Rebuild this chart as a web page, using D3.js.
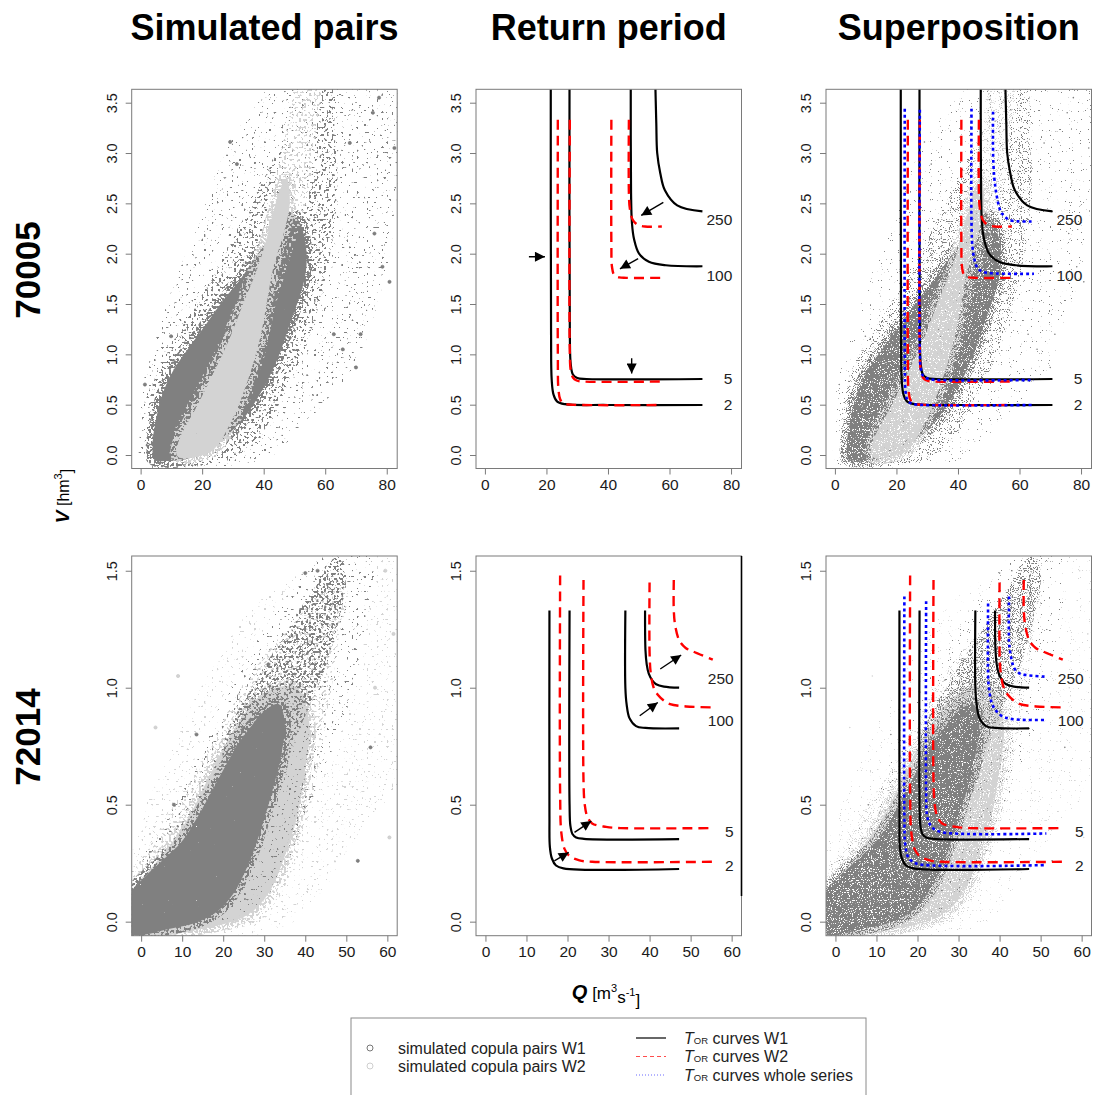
<!DOCTYPE html>
<html>
<head>
<meta charset="utf-8">
<script src="https://cdn.jsdelivr.net/npm/d3@7.9.0/dist/d3.min.js"></script>
<style>
  body { margin: 0; background: #fff; }
  svg { display: block; font-family: "Liberation Sans", Arial, sans-serif; }
</style>
</head>
<body>
<svg id="chart" width="1097" height="1095"></svg>
<script>
// ---- data ----
const titles = ['Simulated pairs', 'Return period', 'Superposition'];
const stations = ['70005', '72014'];
const periods = ['2', '5', '100', '250'];

const qTicks70005 = [0, 20, 40, 60, 80];
const vTicks70005 = [0, 0.5, 1, 1.5, 2, 2.5, 3, 3.5];
const qTicks72014 = [0, 10, 20, 30, 40, 50, 60];
const vTicks72014 = [0, 0.5, 1, 1.5];

// T_OR curves, station 70005  [Q, V] (one array per return period 2,5,100,250)
const w1Curves70005 = [
  [[21.4, 3.8], [21.5, 1.2], [21.7, 0.75], [22.3, 0.6], [23.5, 0.53], [26, 0.505], [40, 0.497], [70.7, 0.497]],
  [[27.5, 3.8], [27.6, 1.2], [27.9, 0.9], [28.6, 0.8], [30, 0.765], [33, 0.755], [70.7, 0.755]],
  [[47.4, 3.8], [47.5, 2.6], [47.8, 2.3], [48.5, 2.14], [50.1, 2.0], [53.3, 1.92], [58.8, 1.885], [70.7, 1.875]],
  [[55.3, 3.8], [55.7, 3.3], [56.0, 3.0], [57, 2.8], [58.5, 2.63], [62.5, 2.48], [70.7, 2.42]]
];
const w2Curves70005 = [
  [[23.7, 3.33], [23.7, 1.0], [23.9, 0.65], [24.5, 0.55], [25.7, 0.51], [28, 0.5], [57.5, 0.497]],
  [[27.6, 3.33], [27.6, 1.0], [27.9, 0.84], [28.6, 0.77], [29.8, 0.74], [32, 0.73], [57.5, 0.73]],
  [[41.1, 3.33], [41.1, 2.1], [41.3, 1.87], [42, 1.79], [43.6, 1.765], [46, 1.76], [57.5, 1.76]],
  [[46.8, 3.33], [46.8, 2.6], [47.1, 2.45], [48, 2.34], [49.5, 2.29], [52, 2.27], [57.5, 2.27]]
];
const wholeCurves70005 = [
  [[22.7, 3.44], [22.7, 1.0], [22.9, 0.65], [23.5, 0.55], [24.6, 0.515], [27, 0.5], [64.7, 0.497]],
  [[27.6, 3.43], [27.6, 1.0], [27.9, 0.86], [28.8, 0.78], [30.6, 0.755], [33, 0.745], [64.7, 0.745]],
  [[44.4, 3.44], [44.4, 2.3], [44.7, 2.07], [45.3, 1.95], [46.3, 1.86], [48, 1.82], [51, 1.805], [64.7, 1.8]],
  [[51.4, 3.41], [51.5, 2.9], [52.3, 2.63], [53.9, 2.42], [55.5, 2.36], [57.2, 2.33], [64.7, 2.32]]
];
const labelV70005 = [0.497, 0.755, 1.78, 2.34];
const arrows70005 = [[14.3, 1.97, 19.5, 1.97], [47.7, 0.96, 47.7, 0.81], [58.0, 2.51, 50.8, 2.38], [49.8, 1.95, 43.9, 1.85]];

// T_OR curves, station 72014
const w1Curves72014 = [
  [[15.6, 1.33], [15.6, 0.45], [15.7, 0.32], [16.2, 0.27], [17.2, 0.24], [19, 0.228], [47.2, 0.225]],
  [[20.5, 1.33], [20.5, 0.5], [20.7, 0.41], [21.2, 0.375], [22.1, 0.36], [24, 0.354], [47.2, 0.353]],
  [[34.1, 1.33], [34.1, 1.0], [34.4, 0.93], [35.1, 0.87], [36.7, 0.836], [39, 0.828], [47.2, 0.826]],
  [[38.9, 1.33], [39, 1.16], [39.3, 1.1], [39.8, 1.06], [40.7, 1.03], [41.6, 1.015], [43.5, 1.005], [47.2, 1.0]]
];
const w2Curves72014 = [
  [[18.2, 1.48], [18.2, 0.55], [18.5, 0.38], [19.3, 0.31], [20.5, 0.28], [22.9, 0.262], [26, 0.256], [55.4, 0.256]],
  [[23.9, 1.46], [23.9, 0.6], [24.2, 0.5], [24.8, 0.45], [26, 0.42], [29.4, 0.405], [33, 0.4], [55.4, 0.4]],
  [[40.0, 1.45], [40.0, 1.15], [40.3, 1.06], [41, 1.0], [42, 0.97], [43.5, 0.945], [45, 0.93], [48.9, 0.92], [55.4, 0.916]],
  [[45.9, 1.46], [45.9, 1.33], [46.3, 1.26], [47.3, 1.2], [48.8, 1.17], [50.6, 1.155], [55.4, 1.12]]
];
const wholeCurves72014 = [
  [[16.8, 1.39], [16.8, 0.45], [17, 0.33], [17.6, 0.28], [18.5, 0.26], [20.5, 0.245], [51.4, 0.242]],
  [[22.1, 1.37], [22.1, 0.55], [22.3, 0.456], [22.9, 0.42], [23.7, 0.4], [26, 0.382], [51.4, 0.377]],
  [[37.2, 1.36], [37.2, 1.05], [37.4, 1.0], [38, 0.94], [38.8, 0.91], [40.5, 0.88], [43, 0.866], [51.4, 0.862]],
  [[42.3, 1.39], [42.3, 1.2], [42.6, 1.15], [43.2, 1.1], [43.7, 1.08], [45, 1.06], [46.5, 1.054], [51.4, 1.047]]
];
const labelV72014 = [0.24, 0.385, 0.86, 1.04];
const arrows72014 = [[42.6, 1.08, 47.7, 1.14], [37.6, 0.88, 42.0, 0.937], [21.7, 0.382, 25.8, 0.43], [16.8, 0.26, 20.3, 0.296]];

// simulated copula pairs: outlines of the point clouds (outer = sparse points, mid = denser, core = solid)
const w1Outer70005 = [[1, -0.1], [0, 0.3], [1, 0.75], [6, 1.25], [12, 1.8], [19, 2.3], [25, 2.85], [31, 3.2], [37, 3.45], [44, 3.7], [84, 3.7], [84, 2.9], [81, 2.0], [76, 1.4], [70, 0.9], [62, 0.6], [50, 0.2], [40, -0.05]];
const w1Mid70005 = [[2.5, -0.08], [2, 0.2], [2.5, 0.45], [4, 0.7], [7, 0.95], [11, 1.15], [16, 1.4], [21, 1.65], [26, 1.9], [31, 2.2], [36, 2.5], [41, 2.8], [46, 3.1], [51, 3.4], [56, 3.7], [62, 3.7], [63, 3.2], [64, 2.8], [63, 2.3], [61, 1.9], [58, 1.5], [54, 1.1], [49, 0.75], [44, 0.45], [39, 0.2], [33, 0.02], [25, -0.08]];
const w1Core70005 = [[4.5, -0.05], [4.0, 0.15], [4.7, 0.3], [6.8, 0.58], [10.6, 0.84], [16, 1.08], [21.5, 1.31], [26.9, 1.54], [32.3, 1.74], [36.7, 1.94], [41, 2.12], [45, 2.3], [48, 2.42], [51, 2.35], [53, 2.2], [54, 1.95], [53, 1.71], [48.6, 1.31], [44.3, 0.94], [38.9, 0.61], [32.3, 0.32], [23.6, 0.08], [15, -0.04], [8, -0.06]];
const w2Mid70005 = [[10, -0.05], [10.5, 0.2], [16, 0.55], [22, 0.9], [28, 1.3], [33, 1.7], [38, 2.1], [42, 2.5], [45, 2.9], [48, 3.3], [51, 3.7], [58, 3.7], [57, 3.2], [55, 2.7], [52, 2.3], [48, 1.9], [44, 1.5], [40, 0.95], [35, 0.5], [30, 0.2], [25, 0.0], [18, -0.06]];
const w2Core70005 = [[11.7, 0.0], [12.5, 0.15], [18.2, 0.48], [23.6, 0.81], [29.1, 1.17], [33.4, 1.51], [37.8, 1.84], [40.5, 2.1], [43, 2.4], [45.5, 2.65], [47.5, 2.75], [48.5, 2.5], [46.5, 2.2], [43.2, 1.87], [41, 1.51], [38.9, 1.17], [34.5, 0.71], [29.1, 0.31], [23.6, 0.05], [18, -0.02], [13, -0.03]];
const w1Dots70005 = [[78.6, 1.87], [80.9, 1.72], [82.5, 3.05], [70, 0.87], [65.7, 1.05], [9.9, 1.18], [1.4, 0.7], [29.1, 3.11], [31.3, 2.89], [76, 2.2], [71.5, 1.2], [62.8, 1.2], [75.5, 3.4], [77.5, 3.55], [68, 3.1]];

const w2Outer72014 = [[-2.5, 0.25], [0, 0.45], [4, 0.6], [8, 0.75], [13, 0.95], [18, 1.1], [25, 1.3], [32, 1.42], [40, 1.5], [48, 1.6], [63, 1.6], [63, 0.6], [56, 0.45], [50, 0.3], [45, 0.15], [40, 0.05], [35, -0.02], [-2.5, -0.08]];
const w2Mid72014 = [[-2.5, 0.18], [2, 0.32], [6, 0.44], [10, 0.55], [15, 0.7], [20, 0.86], [25, 1.02], [32, 1.18], [38, 1.3], [45, 1.42], [50, 1.42], [48, 1.2], [46, 0.95], [44, 0.75], [42, 0.55], [39, 0.35], [35, 0.15], [30, 0.02], [20, -0.04], [-2.5, -0.06]];
const w2Core72014 = [[-2.5, 0.12], [3, 0.24], [8, 0.35], [12, 0.46], [16, 0.6], [20, 0.74], [24, 0.86], [28, 0.95], [33, 1.0], [38, 1.0], [41, 0.85], [40, 0.65], [38, 0.45], [35, 0.28], [31, 0.12], [26, 0.03], [15, -0.03], [-2.5, -0.05]];
const w1Outer72014 = [[-2.5, 0.15], [5, 0.4], [10, 0.55], [15, 0.75], [20, 0.95], [25, 1.1], [30, 1.25], [38, 1.45], [45, 1.6], [56, 1.6], [54, 1.2], [50, 0.9], [45, 0.65], [40, 0.45], [36, 0.25], [30, 0.1], [20, 0.0]];
const w1Mid72014 = [[20, 0.7], [23, 0.88], [27, 1.0], [31, 1.12], [35, 1.22], [38, 1.32], [42, 1.42], [45, 1.52], [48, 1.56], [50, 1.5], [49, 1.35], [46, 1.15], [43, 1.0], [40, 0.88], [37, 0.76], [35, 0.62], [33, 0.55]];
const w1Core72014 = [[-2.5, -0.05], [-2.5, 0.12], [0.8, 0.19], [5.7, 0.27], [9.8, 0.34], [13.8, 0.45], [17.9, 0.58], [21, 0.68], [24, 0.77], [27, 0.84], [30, 0.9], [33.5, 0.93], [35, 0.85], [34, 0.7], [32, 0.56], [30, 0.44], [28, 0.33], [25.5, 0.22], [22.5, 0.12], [19, 0.05], [14, 0.0], [7, -0.03]];
const w1Dots72014 = [[55.9, 0.745], [52.8, 0.26], [43, 1.5], [40, 1.49], [31, 1.1], [13.5, 0.8], [8, 0.5]];
const w2Dots72014 = [[60.5, 0.36], [61.5, 1.23], [3.5, 0.83], [59.5, 1.5], [57, 1.0], [9, 1.05]];

const legendPairs = ['simulated copula pairs W1', 'simulated copula pairs W2'];
const legendCurves = ['curves W1', 'curves W2', 'curves whole series'];

// ---- layout ----
const DARK = '#808080', LIGHT = '#d3d3d3';
const colLeft = [131.7, 476, 826];
const panelW = 265.5;
const rowCfg = [
  { top: 89.3, bottom: 468.5, xDom: [-2.9, 83.4], yDom: [-0.134, 3.633], qt: qTicks70005, vt: vTicks70005,
    w1: w1Curves70005, w2: w2Curves70005, whole: wholeCurves70005, labV: labelV70005, labX: 80.4, arrows: arrows70005,
    clouds: [[w1Outer70005, DARK, 'outer'], [w1Mid70005, DARK, 'mid'], [w1Core70005, DARK, 'core'],
             [w2Mid70005, LIGHT, 'mid'], [w2Core70005, LIGHT, 'core']],
    dots: [[w1Dots70005, DARK]] },
  { top: 556, bottom: 935.7, xDom: [-2.3, 62.4], yDom: [-0.06, 1.563], qt: qTicks72014, vt: vTicks72014,
    w1: w1Curves72014, w2: w2Curves72014, whole: wholeCurves72014, labV: labelV72014, labX: 60.5, arrows: arrows72014,
    clouds: [[w2Outer72014, LIGHT, 'outer'], [w2Mid72014, LIGHT, 'mid'], [w2Core72014, LIGHT, 'core'],
             [w1Outer72014, DARK, 'outer'], [w1Mid72014, DARK, 'dense'], [w1Core72014, DARK, 'core']],
    dots: [[w2Dots72014, LIGHT], [w1Dots72014, DARK]] }
];

const svg = d3.select('#chart');
const defs = svg.append('defs');

// speckle texture for the point clouds
function speckle(id, freq, thr, seed) {
  const f = defs.append('filter').attr('id', id)
    .attr('x', '-5%').attr('y', '-5%').attr('width', '110%').attr('height', '110%')
    .attr('color-interpolation-filters', 'sRGB');
  f.append('feTurbulence').attr('type', 'fractalNoise').attr('baseFrequency', freq)
    .attr('numOctaves', 1).attr('seed', seed).attr('result', 'n');
  f.append('feColorMatrix').attr('in', 'n').attr('type', 'matrix')
    .attr('values', `0 0 0 0 0  0 0 0 0 0  0 0 0 0 0  30 0 0 0 ${-30 * thr}`).attr('result', 'm');
  f.append('feComposite').attr('in', 'SourceGraphic').attr('in2', 'm').attr('operator', 'in');
}
speckle('cOuter', 0.4, 0.672, 2);
speckle('cMid', 0.4, 0.59, 5);
speckle('cDense', 0.4, 0.54, 7);
speckle('cEdge', 0.4, 0.5, 8);
speckle('cCore', 0.5, 0.18, 11);
speckle('fOuter', 0.9, 0.7, 3);
speckle('fMid', 0.9, 0.6, 6);
speckle('fDense', 0.9, 0.55, 4);
speckle('fEdge', 0.9, 0.52, 9);
speckle('fCore', 0.9, 0.38, 12);

defs.append('marker').attr('id', 'arr')
  .attr('viewBox', '0 0 10 10').attr('refX', 10).attr('refY', 5)
  .attr('markerUnits', 'userSpaceOnUse').attr('markerWidth', 12).attr('markerHeight', 10)
  .attr('orient', 'auto')
  .append('path').attr('d', 'M0,0L10,5L0,10z').attr('fill', '#000');

const cloudLine = d3.line().curve(d3.curveCatmullRomClosed.alpha(0.5));
const filterName = { outer: 'Outer', mid: 'Mid', dense: 'Dense' };

rowCfg.forEach((cfg, ri) => {
  const h = cfg.bottom - cfg.top;
  const x = d3.scaleLinear().domain(cfg.xDom).range([0, panelW]);
  const y = d3.scaleLinear().domain(cfg.yDom).range([h, 0]);
  const curve = d3.line().x(d => x(d[0])).y(d => y(d[1])).curve(d3.curveCatmullRom.alpha(0.5));

  colLeft.forEach((cx, ci) => {
    const g = svg.append('g').attr('transform', `translate(${cx},${cfg.top})`);
    const clipId = `clip${ri}${ci}`;
    defs.append('clipPath').attr('id', clipId)
      .append('rect').attr('width', panelW).attr('height', h);
    const plot = g.append('g').attr('clip-path', `url(#${clipId})`);

    // point clouds
    if (ci !== 1) {
      const p = ci === 2 ? 'f' : 'c';
      cfg.clouds.forEach(([pts, col, kind]) => {
        const d = cloudLine(pts.map(q => [x(q[0]), y(q[1])]));
        if (kind === 'core') {
          // speckled fringe around the dense part
          plot.append('path').attr('d', d).attr('fill', 'none')
            .attr('stroke', col).attr('stroke-width', 12).attr('stroke-linejoin', 'round')
            .attr('filter', `url(#${p}Edge)`);
          plot.append('path').attr('d', d).attr('fill', col)
            .attr('filter', `url(#${p}Core)`);
        } else {
          plot.append('path').attr('d', d).attr('fill', col)
            .attr('filter', `url(#${p}${filterName[kind]})`);
        }
      });
      cfg.dots.forEach(([pts, col]) => {
        plot.selectAll(null).data(pts).enter().append('circle')
          .attr('cx', d => x(d[0])).attr('cy', d => y(d[1]))
          .attr('r', ci === 2 ? 0.8 : 1.6)
          .attr('fill', col)
          .attr('stroke', col === DARK ? '#6e6e6e' : '#c4c4c4').attr('stroke-width', ci === 2 ? 0 : 0.6);
      });
    }

    // return period curves
    if (ci !== 0) {
      const sets = [[cfg.w1, '#000', null, 2.2], [cfg.w2, '#ff0000', '10,6', 2.4]];
      if (ci === 2) sets.push([cfg.whole, '#0000ff', '3,3', 2.6]);
      sets.forEach(([arr, col, dash, lw]) => {
        plot.selectAll(null).data(arr).enter().append('path')
          .attr('d', curve).attr('fill', 'none')
          .attr('stroke', col).attr('stroke-width', lw)
          .attr('stroke-dasharray', dash);
      });
      g.selectAll(null).data(periods).enter().append('text')
        .attr('x', x(cfg.labX)).attr('y', (d, i) => y(cfg.labV[i]))
        .attr('dy', '0.35em').attr('text-anchor', 'end')
        .attr('font-size', 15.5).attr('fill', '#222')
        .text(d => d);
    }
    if (ci === 1) {
      plot.selectAll(null).data(cfg.arrows).enter().append('line')
        .attr('x1', d => x(d[0])).attr('y1', d => y(d[1]))
        .attr('x2', d => x(d[2])).attr('y2', d => y(d[3]))
        .attr('stroke', '#000').attr('stroke-width', 1.4)
        .attr('marker-end', 'url(#arr)');
    }

    // box
    g.append('rect').attr('width', panelW).attr('height', h)
      .attr('fill', 'none').attr('stroke', '#7a7a7a').attr('stroke-width', 1);
    if (ri === 1 && ci === 1) {
      g.append('line').attr('x1', panelW).attr('x2', panelW)
        .attr('y1', 0).attr('y2', y(0.11))
        .attr('stroke', '#000').attr('stroke-width', 1.6);
    }

    // axes
    const gx = g.append('g').attr('transform', `translate(0,${h})`)
      .call(d3.axisBottom(x).tickValues(cfg.qt).tickSize(6).tickPadding(4).tickFormat(d3.format('d')));
    gx.select('.domain').remove();
    gx.selectAll('line').attr('stroke', '#7a7a7a');
    gx.selectAll('text').attr('font-size', 15.5).attr('fill', '#1a1a1a').attr('font-family', null);

    const gy = g.append('g')
      .call(d3.axisLeft(y).tickValues(cfg.vt).tickSize(6).tickFormat(d3.format('.1f')));
    gy.select('.domain').remove();
    gy.selectAll('line').attr('stroke', '#7a7a7a');
    gy.selectAll('text')
      .attr('x', null).attr('dy', '0.35em').attr('text-anchor', 'middle')
      .attr('transform', 'translate(-20,0) rotate(-90)')
      .attr('font-size', 14.5).attr('fill', '#1a1a1a').attr('font-family', null);
  });
});

// column titles
svg.selectAll(null).data(titles).enter().append('text')
  .attr('x', (d, i) => colLeft[i] + panelW / 2).attr('y', 40)
  .attr('text-anchor', 'middle').attr('font-size', 36).attr('font-weight', 'bold')
  .text(d => d);

// row labels
svg.selectAll(null).data(stations).enter().append('text')
  .attr('transform', (d, i) => `translate(28,${i === 0 ? 270 : 737}) rotate(-90)`)
  .attr('text-anchor', 'middle').attr('dy', '0.35em')
  .attr('font-size', 35).attr('font-weight', 'bold')
  .text(d => d);

// V axis title
const vt = svg.append('text')
  .attr('transform', 'translate(63,496) rotate(-90)')
  .attr('text-anchor', 'middle').attr('dy', '0.35em').attr('font-size', 16);
vt.append('tspan').attr('font-weight', 'bold').attr('font-style', 'italic').attr('font-size', 19).text('V');
vt.append('tspan').text('  [hm');
vt.append('tspan').attr('font-size', 11).attr('dy', '-0.6em').text('3');
vt.append('tspan').attr('dy', '0.6em').text(']');

// Q axis title
const qt = svg.append('text')
  .attr('x', 606).attr('y', 999).attr('text-anchor', 'middle').attr('font-size', 17);
qt.append('tspan').attr('font-weight', 'bold').attr('font-style', 'italic').attr('font-size', 20).text('Q');
qt.append('tspan').text('  [m');
qt.append('tspan').attr('font-size', 11).attr('dy', '-0.6em').text('3');
qt.append('tspan').attr('dy', '0.6em').text('s');
qt.append('tspan').attr('font-size', 11).attr('dy', '-0.6em').text('-1');
qt.append('tspan').attr('dy', '0.6em').text(']');

// legend
const lg = svg.append('g');
lg.append('rect').attr('x', 351).attr('y', 1018).attr('width', 515).attr('height', 100)
  .attr('fill', '#fff').attr('stroke', '#8a8a8a').attr('stroke-width', 1);
const ptCols = ['#777', '#cfcfcf'];
legendPairs.forEach((t, i) => {
  const yy = 1048 + i * 18;
  lg.append('circle').attr('cx', 370).attr('cy', yy).attr('r', 3)
    .attr('fill', 'none').attr('stroke', ptCols[i]).attr('stroke-width', 1);
  lg.append('text').attr('x', 398).attr('y', yy).attr('dy', '0.35em')
    .attr('font-size', 16).attr('fill', '#222').text(t);
});
const lnStyles = [['#000', null, 1.2], ['#ff4d4d', '4,3', 1.2], ['#6b6bff', '1,2', 1.2]];
legendCurves.forEach((t, i) => {
  const yy = 1038 + i * 18.5;
  lg.append('line').attr('x1', 636).attr('x2', 666).attr('y1', yy).attr('y2', yy)
    .attr('stroke', lnStyles[i][0]).attr('stroke-dasharray', lnStyles[i][1])
    .attr('stroke-width', lnStyles[i][2]);
  const tx = lg.append('text').attr('x', 684).attr('y', yy).attr('dy', '0.35em')
    .attr('font-size', 16).attr('fill', '#222');
  tx.append('tspan').attr('font-style', 'italic').text('T');
  tx.append('tspan').attr('font-size', 9.5).text('OR');
  tx.append('tspan').text(' ' + t);
});
</script>
</body>
</html>
